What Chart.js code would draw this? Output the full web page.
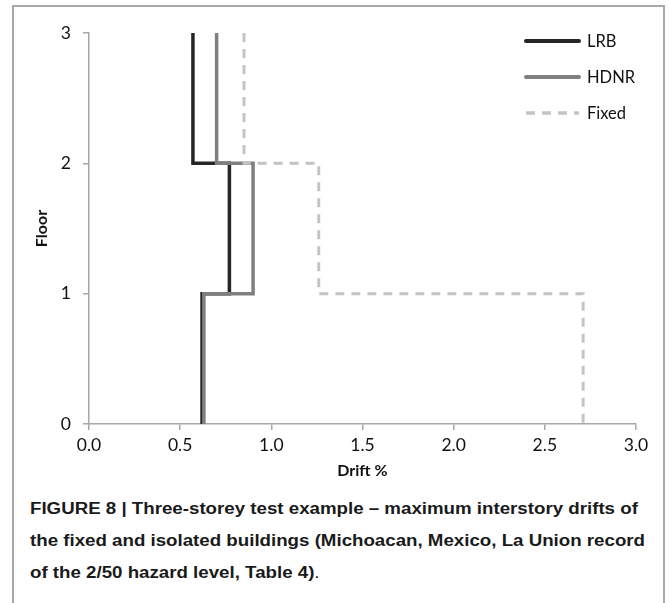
<!DOCTYPE html>
<html>
<head>
<meta charset="utf-8">
<script src="https://cdn.jsdelivr.net/npm/chart.js@4.4.1/dist/chart.umd.min.js"></script>
<style>
  body { margin: 0; background: #fff; width: 669px; height: 603px; overflow: hidden; position: relative; }
  #frame { position: absolute; left: 12px; top: 5px; width: 649px; height: 640px; border: 2px solid #a8a8a8; border-bottom: none; }
  #wrap { position: absolute; left: 14px; top: 7px; width: 649px; height: 475px; }
  #caption { position: absolute; left: 30px; top: 493px; font-family: "Liberation Sans", Arial, sans-serif; font-weight: bold;
             font-size: 16px; line-height: 32px; color: #1a1a1a; white-space: nowrap; transform-origin: 0 0; }
  #caption .n { font-weight: normal; }
</style>
</head>
<body>
<div id="frame"></div>
<div id="wrap"><canvas id="chart" width="649" height="475"></canvas></div>
<div id="caption">
  <div id="cap1">FIGURE 8 | Three-storey test example – maximum interstory drifts of</div>
  <div>the fixed and isolated buildings (Michoacan, Mexico, La Union record</div>
  <div>of the 2/50 hazard level, Table 4)<span class="n">.</span></div>
</div>
<script>
// floor levels and max interstory drift of each storey (storey 1 = floor 0..1)
const floors = [0, 1, 2, 3]
const lrbDrift = [0.62, 0.77, 0.57]
const hdnrDrift = [0.63, 0.90, 0.70]
const fixedDrift = [2.71, 1.26, 0.85]
const xTicks = [0.0, 0.5, 1.0, 1.5, 2.0, 2.5, 3.0]

// drift profile drawn as steps, top storey first
function steps(drifts) {
    let pts = []
    for (let i = drifts.length - 1; i >= 0; i--) {
        pts.push({ x: drifts[i], y: floors[i + 1] })
        pts.push({ x: drifts[i], y: floors[i] })
    }
    return pts
}

const series = [
    { label: 'LRB', data: lrbDrift, color: '#262626', dash: [], width: 3.5, order: 3 },
    { label: 'HDNR', data: hdnrDrift, color: '#7f7f7f', dash: [], width: 3.5, order: 2 },
    { label: 'Fixed', data: fixedDrift, color: '#c4c4c4', dash: [9, 7], width: 3, order: 1 },
]

const fontFamily = "Lato, 'Open Sans', sans-serif"
const tickFont = { family: fontFamily, size: 17.5 }
const axisGrey = '#a8a8a8'

const legendLines = {
    id: 'legendLines',
    afterDraw(chart) {
        const ctx = chart.ctx
        const area = chart.chartArea
        ctx.save()
        series.forEach((s, i) => {
            const y = area.top + 8 + i * 36
            const x0 = area.right - 110
            ctx.beginPath()
            ctx.lineWidth = s.width + 0.5
            ctx.lineCap = s.dash.length ? 'butt' : 'round'
            ctx.setLineDash(s.dash)
            ctx.strokeStyle = s.color
            ctx.moveTo(x0, y)
            ctx.lineTo(x0 + 53, y)
            ctx.stroke()
            ctx.setLineDash([])
            ctx.fillStyle = '#111'
            ctx.font = '16.5px ' + fontFamily
            ctx.textBaseline = 'middle'
            ctx.textAlign = 'left'
            ctx.fillText(s.label, x0 + 61, y + 1)
        })
        ctx.restore()
    }
}

const ctx = document.getElementById('chart').getContext('2d')
const chart = new Chart(ctx, {
    type: 'scatter',
    data: {
        datasets: series.map(s => ({
            label: s.label,
            data: steps(s.data),
            showLine: true,
            borderColor: s.color,
            backgroundColor: s.color,
            borderWidth: s.width,
            borderDash: s.dash,
            borderJoinStyle: 'miter',
            pointRadius: 0,
            pointHoverRadius: 0,
            order: s.order,
        }))
    },
    options: {
        responsive: false,
        animation: false,
        events: [],
        layout: { padding: { top: 26, right: 27, left: 0, bottom: 0 } },
        scales: {
            x: {
                type: 'linear',
                min: 0,
                max: 3,
                afterFit: s => { s.height = 58 },
                afterBuildTicks: s => { s.ticks = xTicks.map(v => ({ value: v })) },
                ticks: { font: tickFont, color: '#111', padding: 5, callback: v => v.toFixed(1), maxRotation: 0 },
                grid: { drawOnChartArea: false, tickLength: 6, color: axisGrey, lineWidth: 1.5 },
                border: { color: axisGrey, width: 1.5 },
                title: { display: true, text: 'Drift %', color: '#111',
                         font: { family: fontFamily, size: 16, weight: 'bold' }, padding: { bottom: 2 } },
            },
            y: {
                type: 'linear',
                min: 0,
                max: 3,
                afterFit: s => { s.width = 75 },
                ticks: { font: tickFont, color: '#111', stepSize: 1, padding: 12 },
                grid: { drawOnChartArea: false, tickLength: 6, color: axisGrey, lineWidth: 1.5 },
                border: { color: axisGrey, width: 1.5 },
                title: { display: true, text: 'Floor', color: '#111',
                         font: { family: fontFamily, size: 16, weight: 'bold' }, padding: { top: 18 } },
            }
        },
        plugins: {
            legend: { display: false },
            tooltip: { enabled: false },
        }
    },
    plugins: [legendLines]
});

// squeeze the caption so its first line spans like the figure
const cap = document.getElementById('caption')
const w = document.getElementById('cap1').getBoundingClientRect().width
cap.style.transform = 'scaleX(' + (615 / w) + ')'
</script>
</body>
</html>
